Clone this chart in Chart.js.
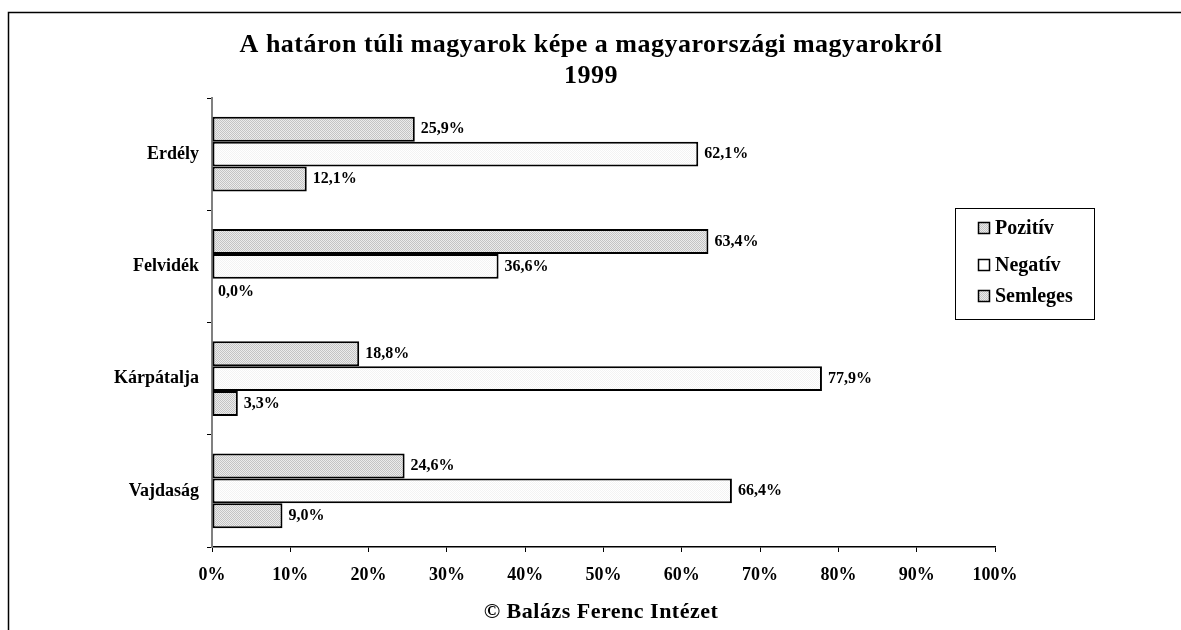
<!DOCTYPE html>
<html>
<head>
<meta charset="utf-8">
<script src="https://cdn.jsdelivr.net/npm/chart.js@4"></script>
<style>
html,body{margin:0;padding:0;background:#fff;}
#wrap{width:1181px;height:630px;position:relative;}
</style>
</head>
<body>
<div id="wrap"><canvas id="c" width="1181" height="630"></canvas></div>
<script>
const categories = ['Erdély', 'Felvidék', 'Kárpátalja', 'Vajdaság'];
const seriesNames = ['Pozitív', 'Negatív', 'Semleges'];
const pozitiv = [25.9, 63.4, 18.8, 24.6];
const negativ = [62.1, 36.6, 77.9, 66.4];
const semleges = [12.1, 0.0, 3.3, 9.0];
const titleLines = ['A határon túli magyarok képe a magyarországi magyarokról', '1999'];
const footerText = '© Balázs Ferenc Intézet';

const SERIF = '"Liberation Serif", "Times New Roman", serif';

function makePattern(bg, dot) {
  const p = document.createElement('canvas');
  p.width = 2; p.height = 2;
  const g = p.getContext('2d');
  g.fillStyle = bg; g.fillRect(0, 0, 2, 2);
  g.fillStyle = dot; g.fillRect(0, 0, 1, 1); g.fillRect(1, 1, 1, 1);
  return g.createPattern(p, 'repeat');
}
const ctx0 = document.getElementById('c').getContext('2d');
const grayPat = makePattern('#ececec', '#c4c4c4');
const whitePat = makePattern('#ffffff', '#f3f3f3');
const swatchFill = [grayPat, '#ffffff', grayPat];

const fmt = v => v.toFixed(1).replace('.', ',') + '%';

const decor = {
  id: 'decor',
  afterDraw(chart) {
    const c = chart.ctx;
    c.save();
    // frame
    c.strokeStyle = '#000'; c.lineWidth = 1.5;
    c.beginPath(); c.moveTo(8.5, 700); c.lineTo(8.5, 12.5); c.lineTo(1190, 12.5); c.stroke();
    // title
    c.fillStyle = '#000'; c.textAlign = 'center'; c.textBaseline = 'middle';
    c.letterSpacing = '0.5px';
    c.font = 'bold 26px ' + SERIF;
    c.fillText(titleLines[0], 591, 45);
    c.fillText(titleLines[1], 591, 76);
    // footer
    c.font = 'bold 22px ' + SERIF;
    c.fillText(footerText, 601, 612);
    c.letterSpacing = '0px';
    // data labels
    c.font = 'bold 16px ' + SERIF;
    c.textAlign = 'left';
    chart.data.datasets.forEach((ds, i) => {
      const meta = chart.getDatasetMeta(i);
      meta.data.forEach((bar, j) => {
        c.fillText(fmt(ds.data[j]), bar.x + 6, bar.y);
      });
    });
    // legend
    c.lineWidth = 1; c.strokeStyle = '#000';
    c.strokeRect(955.5, 208.5, 139, 111);
    const ys = [228, 265, 296];
    c.font = 'bold 20px ' + SERIF;
    chart.data.datasets.forEach((ds, i) => {
      c.fillStyle = swatchFill[i];
      c.fillRect(978, ys[i] - 6, 12, 12);
      c.strokeStyle = '#000'; c.lineWidth = 1.5;
      c.strokeRect(978.5, ys[i] - 5.5, 11, 11);
      c.fillStyle = '#000';
      c.fillText(ds.label, 995, ys[i] + 1);
    });
    c.restore();
  }
};

new Chart(ctx0, {
  type: 'bar',
  data: {
    labels: categories,
    datasets: [
      { label: seriesNames[0], data: pozitiv, backgroundColor: grayPat, borderColor: '#000', borderWidth: 2 },
      { label: seriesNames[1], data: negativ, backgroundColor: whitePat, borderColor: '#000', borderWidth: 2 },
      { label: seriesNames[2], data: semleges, backgroundColor: grayPat, borderColor: '#000', borderWidth: 2 }
    ]
  },
  options: {
    indexAxis: 'y',
    responsive: false,
    animation: false,
    layout: { padding: { top: 98, right: 186, bottom: 0, left: 0 } },
    datasets: { bar: { categoryPercentage: 0.668, barPercentage: 1.0, borderSkipped: false } },
    plugins: { legend: { display: false }, tooltip: { enabled: false }, title: { display: false } },
    scales: {
      x: {
        min: 0, max: 100,
        ticks: { stepSize: 10, callback: v => v + '%', color: '#000', font: { family: SERIF, size: 18, weight: 'bold' }, padding: 13, maxRotation: 0 },
        grid: { drawOnChartArea: false, drawTicks: true, tickLength: 5, color: '#000' },
        border: { display: true, color: '#000', width: 1.5 },
        afterFit: s => { s.height = 83; }
      },
      y: {
        ticks: { color: '#000', font: { family: SERIF, size: 18, weight: 'bold' }, padding: 8 },
        grid: { drawOnChartArea: false, drawTicks: true, tickLength: 5, color: '#000', offset: true },
        border: { display: true, color: '#808080', width: 2 },
        afterFit: s => { s.width = 212; }
      }
    }
  },
  plugins: [decor]
});
</script>
</body>
</html>
